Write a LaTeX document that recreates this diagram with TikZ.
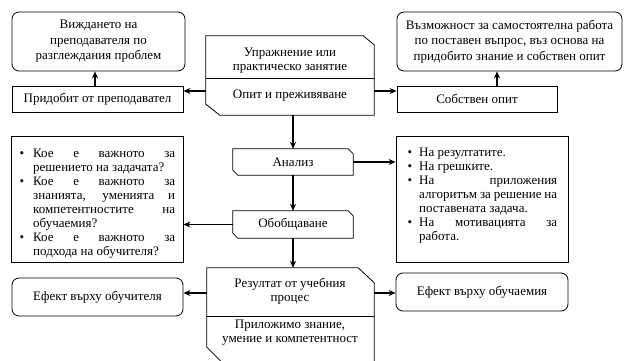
\documentclass[tikz,border=0pt]{standalone}
\usepackage{fontspec}
\setmainfont{Liberation Serif}
\usetikzlibrary{arrows.meta}
\newcommand{\jsl}[1]{\makebox[142pt][s]{#1}}
\newcommand{\jsr}[1]{\makebox[138pt][s]{#1}}
\newcommand{\bull}{\llap{•\hspace{9pt}}}
\newcommand{\bulr}{\llap{•\hspace{7pt}}}
\begin{document}
\begin{tikzpicture}[x=1pt,y=-1pt,
  every node/.style={font=\fontsize{13}{15.5}\selectfont, inner sep=0pt},
  rbox/.style={draw, rounded corners=7pt, line width=0.8pt, align=center},
  sbox/.style={draw, line width=0.8pt, align=center},
  ghost/.style={draw=none},
  frame/.style={line width=0.8pt, line join=miter},
  arr/.style={-{Stealth[length=7pt,width=6pt]}, line width=1.1pt},
  bultext/.style={anchor=north west, align=left, font=\fontsize{13}{14}\selectfont},
]
\useasboundingbox (0,0) rectangle (627,361);
\clip (0,0) rectangle (627,361);

% top row
\node[rbox, minimum width=173pt, minimum height=59pt] (A) at (98.5,41.5)
  {Виждането на\\преподавателя по\\разглеждания проблем};
\node[sbox, minimum width=171pt, minimum height=26pt] (B) at (97.5,99.5)
  {Придобит от преподавател};
\node[rbox, minimum width=225pt, minimum height=59pt] (E) at (509.5,41.5)
  {Възможност за самостоятелна работа\\по поставен въпрос, въз основа на\\придобито знание и собствен опит};
\node[sbox, minimum width=160pt, minimum height=26pt] (D) at (477,99)
  {Собствен опит};

% centre chamfered box
\node[ghost, minimum width=168pt, minimum height=79pt] (C1) at (290,75.5) {};
\draw[frame] (C1.north west) -- ([xshift=-11pt]C1.north east) -- ([yshift=-9pt]C1.north east)
  -- (C1.south east) -- ([xshift=14pt]C1.south west) -- ([yshift=11pt]C1.south west) -- cycle;
\coordinate (c1d) at (0,78);
\draw[frame] (C1.west |- c1d) -- (C1.east |- c1d);
\node[align=center, font=\fontsize{13}{13.5}\selectfont] (C1a) at (290,60.5) {Упражнение или\\практическо занятие};
\node (C1b) at (290,95.5) {Опит и преживяване};

% Анализ and Обобщаване
\node[ghost, minimum width=120pt, minimum height=26pt] (F) at (293,162) {Анализ};
\draw[frame] (F.north west) -- ([xshift=-5pt]F.north east) -- ([yshift=-5pt]F.north east)
  -- (F.south east) -- ([xshift=5pt]F.south west) -- ([yshift=5pt]F.south west) -- cycle;
\node[ghost, minimum width=120pt, minimum height=27pt] (H) at (293,224.5) {Обобщаване};
\draw[frame] (H.north west) -- ([xshift=-5pt]H.north east) -- ([yshift=-5pt]H.north east)
  -- (H.south east) -- ([xshift=5pt]H.south west) -- ([yshift=5pt]H.south west) -- cycle;

% bullet boxes
\node[sbox, minimum width=172pt, minimum height=126pt] (I) at (97,199) {};
\node[bultext] (It) at (33,148.5) {%
\bull\jsl{Кое е важното за}\\
решението на задачата?\\
\bull\jsl{Кое е важното за}\\
\jsl{знанията, уменията и}\\
\jsl{компетентностите на}\\
обучаемия?\\
\bull\jsl{Кое е важното за}\\
подхода на обучителя?};
\node[sbox, minimum width=172pt, minimum height=126pt] (G) at (482,199) {};
\node[bultext] (Gt) at (419,147.5) {%
\bulr На резултатите.\\
\bulr На грешките.\\
\bulr\jsr{На приложения}\\
\jsr{алгоритъм за решение на}\\
поставената задача.\\
\bulr\jsr{На мотивацията за}\\
работа.};

% bottom chamfered box
\node[ghost, minimum width=167pt, minimum height=107pt] (J) at (290.5,321.5) {};
\draw[frame] (J.north west) -- ([xshift=-16pt]J.north east) -- ([yshift=-15pt]J.north east)
  -- (J.south east) -- ([xshift=28pt]J.south west) -- ([yshift=28pt]J.south west) -- cycle;
\coordinate (jd) at (0,316);
\draw[frame] (J.west |- jd) -- (J.east |- jd);
\node[align=center, font=\fontsize{13}{14}\selectfont] (Ja) at (290,291) {Резултат от учебния\\процес};
\node[align=center, font=\fontsize{13}{14}\selectfont] (Jb) at (290,333) {Приложимо знание,\\умение и компетентност};

\node[rbox, minimum width=171pt, minimum height=38pt] (K) at (97.5,297) {Ефект върху обучителя};
\node[rbox, minimum width=172pt, minimum height=38pt] (L) at (482,292) {Ефект върху обучаемия};

% connectors
\coordinate (y91) at (0,91);
\coordinate (x95) at (95,0);
\coordinate (x497) at (497,0);
\coordinate (y293) at (0,293);
\draw[arr] (C1.west |- y91) -- (B.east |- y91);
\draw[arr] (C1.east |- y91) -- (D.west |- y91);
\draw[arr] (B.north -| x95) -- (A.south -| x95);
\draw[arr] (D.north -| x497) -- (E.south -| x497);
\draw[arr] (C1.south -| F.north) -- (F.north);
\draw[arr] (F.east) -- (F.east -| G.west);
\draw[arr] (F.south) -- (H.north);
\draw[arr] (H.west) -- (H.west -| I.east);
\draw[arr] (H.south) -- (H.south |- J.north);
\draw[arr] (J.west |- y293) -- (K.east |- y293);
\draw[arr] (J.east |- y293) -- (L.west |- y293);
\end{tikzpicture}
\end{document}
